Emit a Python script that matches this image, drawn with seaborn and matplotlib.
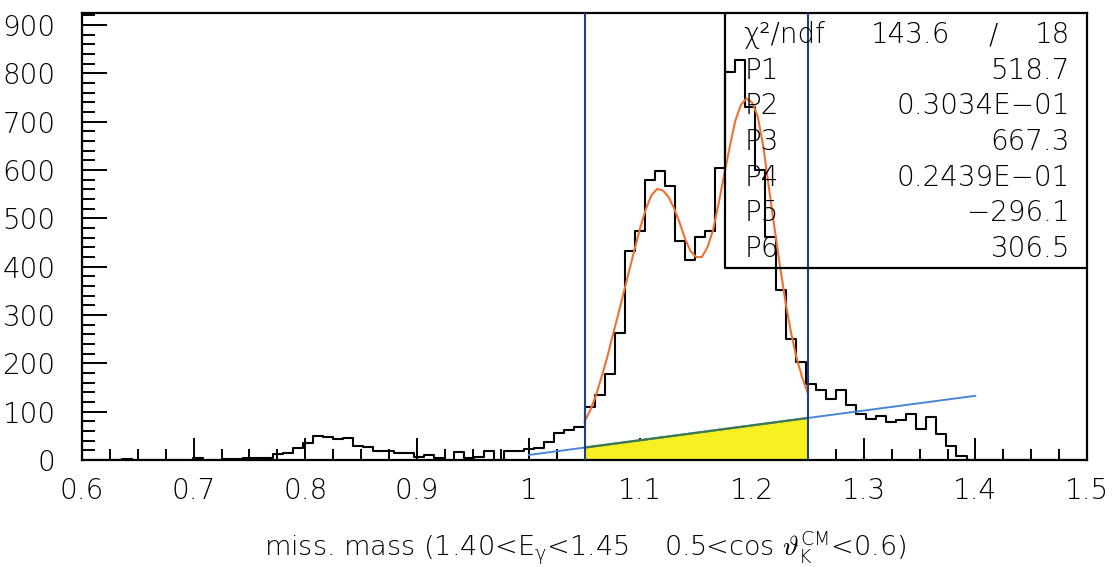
import numpy as np
import pandas as pd
import matplotlib
matplotlib.use("Agg")
import matplotlib.pyplot as plt
import seaborn as sns

# ---------------- data ----------------
hist_start = 0.6
hist_width = 0.009
counts = [
    0, 0, 0, 0, 3, 0, 0, 0, 0, 0,
    0, 4, 0, 1, 2, 3, 4, 5, 5, 12,
    14, 24, 35, 49, 47, 44, 45, 30, 27, 19,
    19, 14, 14, 7, 10, 5, 0, 17, 4, 7,
    19, 1, 18, 19, 22, 24, 38, 55, 62, 68,
    110, 134, 179, 262, 433, 473, 580, 599, 568, 454,
    414, 462, 474, 605, 804, 827, 731, 600, 462, 351,
    251, 203, 158, 144, 127, 144, 113, 96, 85, 92,
    78, 82, 96, 65, 89, 54, 30, 8, 0, 0,
    0, 0, 0, 0, 0, 0, 0, 0, 0, 0,
]

fit_x = [1.050, 1.055, 1.060, 1.065, 1.070, 1.075, 1.080, 1.085, 1.090, 1.095,
         1.100, 1.105, 1.110, 1.115, 1.120, 1.125, 1.130, 1.135, 1.140, 1.145,
         1.150, 1.155, 1.160, 1.165, 1.170, 1.175, 1.180, 1.185, 1.190, 1.195,
         1.200, 1.205, 1.210, 1.215, 1.220, 1.225, 1.230, 1.235, 1.240, 1.245,
         1.250]
fit_y = [80, 102, 132, 170, 210, 256, 300, 346, 392, 438,
         482, 520, 548, 561, 558, 545, 522, 492, 458, 432,
         420, 420, 440, 475, 530, 590, 648, 702, 735, 748,
         740, 712, 650, 565, 482, 401, 326, 262, 210, 170,
         138]

bg_x = [1.00, 1.40]
bg_y = [10.4, 132.9]
fill_x = [1.05, 1.25]
fill_y = [25.7, 87.0]
range_lines = [1.05, 1.25]

stat_names = ["P1", "P2", "P3", "P4", "P5", "P6"]
stat_values = ["518.7", "0.3034E\u221201", "667.3", "0.2439E\u221201", "\u2212296.1", "306.5"]
chi2_label = "\u03c7\u00b2/ndf"
chi2_val = "143.6"
ndf_val = "18"

xticks = [0.6, 0.7, 0.8, 0.9, 1.0, 1.1, 1.2, 1.3, 1.4, 1.5]
xtick_labels = ["0.6", "0.7", "0.8", "0.9", "1", "1.1", "1.2", "1.3", "1.4", "1.5"]
yticks = [0, 100, 200, 300, 400, 500, 600, 700, 800, 900]

# ---------------- style ----------------
sns.set_style("white")
plt.rcParams["font.family"] = ["DejaVu Sans"]
plt.rcParams["font.weight"] = "light"
plt.rcParams["mathtext.fontset"] = "custom"
plt.rcParams["mathtext.rm"] = "DejaVu Sans:light"
plt.rcParams["mathtext.it"] = "DejaVu Sans:light"
plt.rcParams["mathtext.bf"] = "DejaVu Sans"
plt.rcParams["text.color"] = "black"
plt.rcParams["axes.labelcolor"] = "black"
plt.rcParams["xtick.color"] = "black"
plt.rcParams["ytick.color"] = "black"

fig = plt.figure(figsize=(11.15, 5.67), dpi=100)
ax = fig.add_axes([0.0735, 0.1887, 0.9015, 0.7883])

edges = [hist_start + hist_width * i for i in range(len(counts) + 1)]
centers = [0.5 * (edges[i] + edges[i + 1]) for i in range(len(counts))]
hist_df = pd.DataFrame({"mass": centers, "count": counts})

# yellow area under background inside fit range
ax.fill_between(fill_x, [0, 0], fill_y, color="#f8f020", zorder=1, linewidth=0)
ax.plot(fill_x, fill_y, color="#3d7a4e", lw=1.6, zorder=3)

# histogram
sns.histplot(data=hist_df, x="mass", weights="count", bins=edges, element="step",
             fill=False, color="black", linewidth=1.5, ax=ax)

# background line
sns.lineplot(x=bg_x, y=bg_y, color="#4a86d8", lw=1.4, ax=ax)

# fit curve
sns.lineplot(x=fit_x, y=fit_y, color="#f07032", lw=1.5, ax=ax, sort=False,
             estimator=None)

# fit-range vertical lines
for xv in range_lines:
    ax.axvline(xv, color="#1f3f7c", lw=1.5, zorder=4)

ax.set_xlim(0.6, 1.5)
ax.set_ylim(0, 925)
ax.set_xticks(xticks)
ax.set_xticklabels(xtick_labels)
ax.set_yticks(yticks)
ax.set_xticks(np.arange(0.6, 1.5001, 0.025), minor=True)
ax.set_yticks(np.arange(0, 921, 20), minor=True)
ax.tick_params(axis="both", which="both", direction="in", width=1.4,
               top=False, right=False, bottom=True, left=True,
               colors="black", labelcolor="black")
ax.tick_params(axis="y", which="major", length=18, labelsize=20, pad=19)
ax.tick_params(axis="y", which="minor", length=9)
ax.tick_params(axis="x", which="major", length=16, labelsize=20, pad=12)
ax.tick_params(axis="x", which="minor", length=8)
ax.set_ylabel("")
for s in ax.spines.values():
    s.set_visible(True)
    s.set_color("black")
    s.set_linewidth(1.6)

ax.set_xlabel(r"miss. mass (1.40<E$_{\gamma}$<1.45    0.5<cos $\vartheta_{\rm K}^{\rm CM}$<0.6)",
              fontsize=19.5, color="black", fontweight="light")
ax.xaxis.set_label_coords(0.5005, -0.197)
ax.xaxis.label.set_va("center")

# statistics box
ax.plot([0.6398, 0.6398, 1.0], [1.0, 0.4295, 0.4295], transform=ax.transAxes,
        color="black", lw=1.6, zorder=5, clip_on=False)
rows_y = [0.9508, 0.8702, 0.7919, 0.7114, 0.6309, 0.5526, 0.4720]
fs = 20
ax.text(0.6577, rows_y[0], chi2_label, transform=ax.transAxes, fontsize=fs,
        ha="left", va="center", zorder=6)
ax.text(0.8249, rows_y[0], chi2_val, transform=ax.transAxes, fontsize=fs,
        ha="center", va="center", zorder=6)
ax.text(0.9065, rows_y[0], "/", transform=ax.transAxes, fontsize=fs,
        ha="center", va="center", zorder=6)
ax.text(0.983, rows_y[0], ndf_val, transform=ax.transAxes, fontsize=fs,
        ha="right", va="center", zorder=6)
for name, val, yy in zip(stat_names, stat_values, rows_y[1:]):
    ax.text(0.6597, yy, name, transform=ax.transAxes, fontsize=fs,
            ha="left", va="center", zorder=6)
    ax.text(0.983, yy, val, transform=ax.transAxes, fontsize=fs,
            ha="right", va="center", zorder=6)

fig.savefig("out.png", dpi=100)
